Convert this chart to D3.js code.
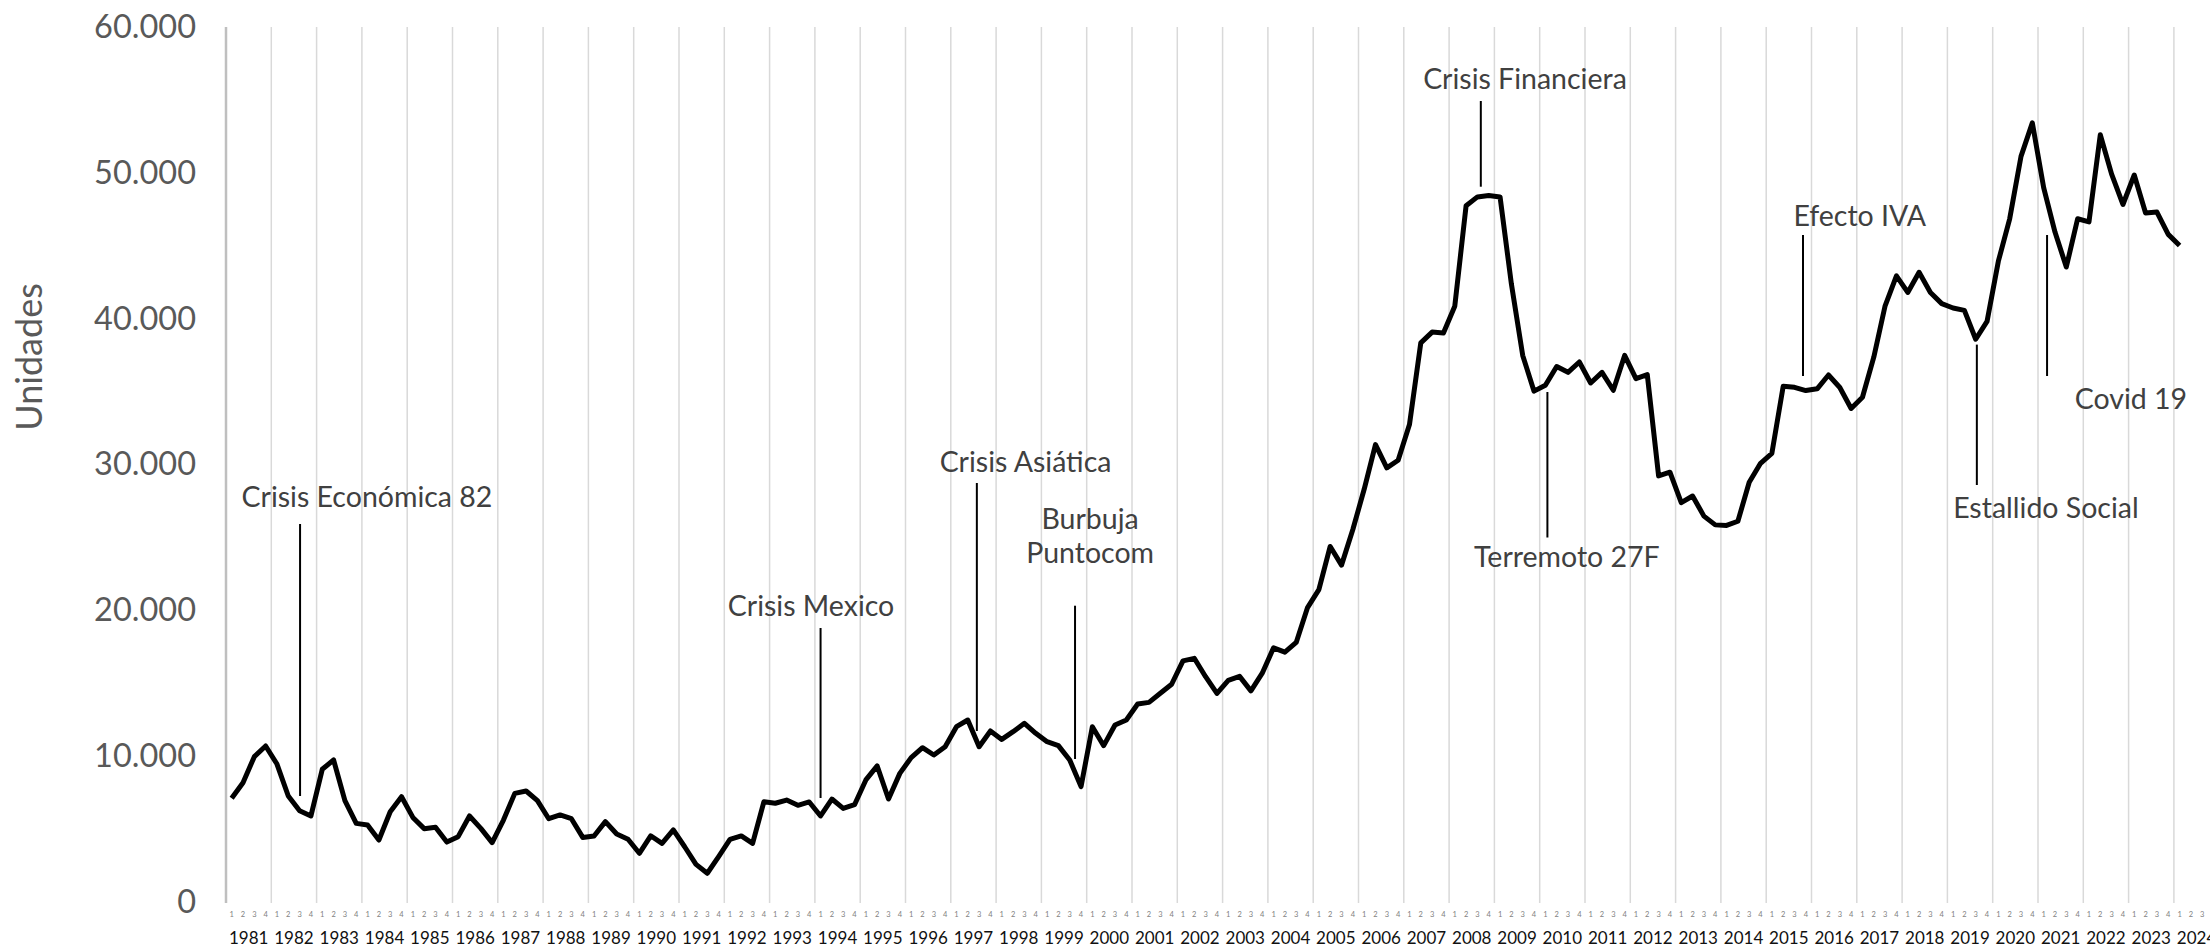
<!DOCTYPE html>
<html>
<head>
<meta charset="utf-8">
<script src="https://cdnjs.cloudflare.com/ajax/libs/d3/7.8.5/d3.min.js"></script>
<style>
  body { margin: 0; background: #fff; }
  svg { display: block; font-family: Lato, "Open Sans", sans-serif; }
</style>
</head>
<body>
<svg></svg>
<script>
// years on the category axis (2024 only partly visible)
var years = d3.range(1981, 2025)
var quarters = ["1", "2", "3", "4"]
var yTicks = [0, 10000, 20000, 30000, 40000, 50000, 60000]

// units per quarter, 1981 Q1 .. 2024 Q1
var unidades = [
    7110, 8180, 9965, 10700,
    9460, 7270, 6260, 5900,
    9100, 9740, 6950, 5390,
    5280, 4250, 6190, 7220,
    5800, 5030, 5120, 4110,
    4480, 5900, 5050, 4070,
    5620, 7450, 7610, 6950,
    5710, 5970, 5710, 4430,
    4530, 5510, 4660, 4300,
    3340, 4540, 4020, 4940,
    3790, 2580, 1970, 3110,
    4300, 4530, 4020, 6880,
    6770, 6990, 6630, 6860,
    5900, 7060, 6420, 6670,
    8370, 9330, 7060, 8820,
    9900, 10580, 10080, 10650,
    12020, 12480, 10650, 11730,
    11150, 11680, 12250, 11570,
    10990, 10720, 9740, 7910,
    12020, 10720, 12140, 12480,
    13580, 13690, 14310, 14930,
    16530, 16710, 15450, 14310,
    15200, 15470, 14480, 15690,
    17430, 17130, 17800, 20190,
    21420, 24380, 23100, 25540,
    28300, 31360, 29770, 30290,
    32740, 38340, 39080, 39020,
    40850, 47740, 48350, 48440,
    48350, 42380, 37480, 35030,
    35430, 36720, 36320, 37030,
    35590, 36320, 35090, 37480,
    35890, 36160, 29220, 29470,
    27380, 27840, 26460, 25860,
    25820, 26110, 28780, 30080,
    30760, 35360, 35290, 35070,
    35190, 36140, 35280, 33840,
    34610, 37360, 40880, 42930,
    41800, 43180, 41800, 41030,
    40730, 40570, 38590, 39810,
    43940, 46850, 51130, 53430,
    48990, 45940, 43540, 46850,
    46640, 52610, 49910, 47830,
    49850, 47250, 47310, 45780,
    45020
]

// event labels: quarter position (index), label lines, text baseline value, pointer line from/to values
var eventLabels  = ["Crisis Económica 82", "Crisis Mexico", "Crisis Asiática", "Burbuja|Puntocom", "Crisis Financiera",
                    "Terremoto 27F", "Efecto IVA", "Estallido Social", "Covid 19"]
var eventTextPos = [11.95, 51.16, 70.1, 75.8, 114.2, 117.9, 143.76, 160.2, 167.7]
var eventTextVal = [27085, 19611, 29506, 23266, 55727, 22943, 46353, 26331, 33839]
var eventLinePos = [6.04, 52.0, 65.8, 74.47, 110.3, 116.18, 138.75, 154.1, 160.3]
var eventLineTop = [25920, 18788, 28731, 20317, 54925, 34970, 45736, 38221, 45736]
var eventLineBot = [7269, 7131, 11725, 9806, 49048, 24994, 36068, 28594, 36068]

var width = 2210, height = 947
var plotLeft = 226, yearWidth = 45.3

var svg = d3.select("svg").attr("width", width).attr("height", height)

var nCat = years.length * quarters.length
var x = d3.scaleLinear()
          .domain([0, nCat])
          .range([plotLeft, plotLeft + nCat * yearWidth / 4])

var y = d3.scaleLinear()
          .domain([0, 60000])
          .range([902, 27])

var locale = d3.formatLocale({decimal: ",", thousands: ".", grouping: [3], currency: ["$", ""]})
var fmt = locale.format(",.0f")

// vertical separators between years
svg.append("g")
   .selectAll("line")
   .data(d3.range(years.length + 1))
   .enter()
   .append("line")
   .attr("x1", k => x(k * 4))
   .attr("x2", k => x(k * 4))
   .attr("y1", y(60000))
   .attr("y2", y(0) + 1)
   .attr("stroke", k => k == 0 ? "#bfbfbf" : "#d9d9d9")
   .attr("stroke-width", k => k == 0 ? 2.5 : 1.5)

// y axis
var yAxis = svg.append("g")
               .attr("transform", "translate(" + plotLeft + ",0)")
               .call(d3.axisLeft(y).tickValues(yTicks).tickSize(0).tickPadding(30).tickFormat(fmt))
yAxis.select(".domain").remove()
yAxis.selectAll("text")
     .attr("font-family", "Lato")
     .attr("font-size", 32.5)
     .attr("fill", "#595959")

svg.append("text")
   .attr("transform", "translate(42,357) rotate(-90)")
   .attr("text-anchor", "middle")
   .attr("font-size", 36)
   .attr("fill", "#595959")
   .text("Unidades")

// quarter numbers and year labels
var cats = []
years.forEach(function(yr, yi) {
    quarters.forEach(function(q, qi) { cats.push({q: q, i: yi * 4 + qi}) })
})
svg.append("g")
   .selectAll("text")
   .data(cats)
   .enter()
   .append("text")
   .attr("x", d => x(d.i + 0.5))
   .attr("y", 917)
   .attr("text-anchor", "middle")
   .attr("font-size", 7.5)
   .attr("fill", "#7f7f7f")
   .text(d => d.q)

svg.append("g")
   .selectAll("text")
   .data(years)
   .enter()
   .append("text")
   .attr("x", (d, i) => x(i * 4 + 2))
   .attr("y", 944)
   .attr("text-anchor", "middle")
   .attr("font-size", 17)
   .attr("fill", "#111")
   .text(d => d)

// series line
var line = d3.line()
             .x((d, i) => x(i + 0.5))
             .y(d => y(d))

svg.append("path")
   .datum(unidades)
   .attr("d", line)
   .attr("fill", "none")
   .attr("stroke", "#000")
   .attr("stroke-width", 5)
   .attr("stroke-linejoin", "round")

// event annotations (positions are quarter indices, like the points)
var ev = svg.append("g")
eventLabels.forEach(function(lbl, i) {
    ev.append("line")
      .attr("x1", x(eventLinePos[i] + 0.5))
      .attr("x2", x(eventLinePos[i] + 0.5))
      .attr("y1", y(eventLineTop[i]))
      .attr("y2", y(eventLineBot[i]))
      .attr("stroke", "#000")
      .attr("stroke-width", 2)

    var parts = lbl.split("|")
    var t = ev.append("text")
              .attr("text-anchor", "middle")
              .attr("font-size", 28.5)
              .attr("fill", "#404040")
    parts.forEach(function(p, j) {
        t.append("tspan")
         .attr("x", x(eventTextPos[i] + 0.5))
         .attr("y", y(eventTextVal[i]) - (parts.length - 1 - j) * 33.3)
         .text(p)
    })
})
</script>
</body>
</html>
